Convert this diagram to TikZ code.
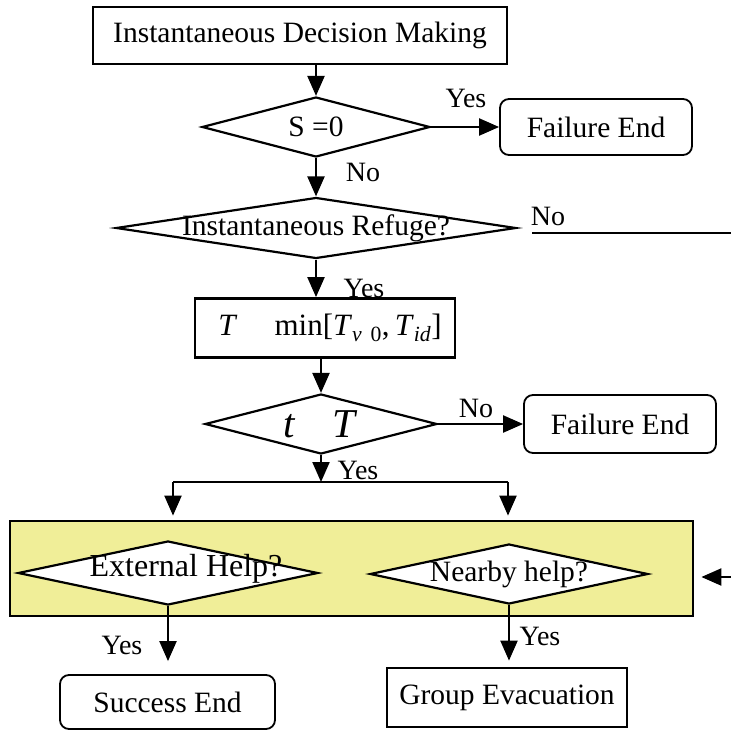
\documentclass[tikz,border=0pt]{standalone}
\usepackage{fontspec}
\setmainfont{Liberation Serif}
\usetikzlibrary{shapes.geometric,arrows.meta}
\definecolor{paleyellow}{RGB}{240,238,152}
\begin{document}
\begin{tikzpicture}[x=1pt,y=-1pt,
  every node/.style={font=\fontsize{29.5}{34}\selectfont, inner sep=0pt},
  box/.style={draw, line width=2.8pt, rectangle, fill=white},
  endbox/.style={draw, line width=1.8pt, rectangle, rounded corners=9pt, fill=white},
  dia/.style={draw, line width=2.2pt, diamond, fill=white, inner sep=0pt},
  conn/.style={line width=2.2pt},
  arr/.style={line width=2.2pt, -{Triangle[length=20pt,width=17pt]}},
  lbl/.style={font=\fontsize{28}{32}\selectfont}
]
\useasboundingbox (0,0) rectangle (731,731);

\node[box, minimum width=414pt, minimum height=57pt] (top) at (300,35.5) {Instantaneous Decision Making};
\node[dia, minimum width=228pt, minimum height=60pt, label=center:{S =0}] (d1) at (316,127) {};
\node[endbox, minimum width=192pt, minimum height=56pt] (fe1) at (596,127) {Failure End};
\node[dia, minimum width=400pt, minimum height=61pt, label=center:{Instantaneous Refuge?}] (d2) at (316,228) {};
\coordinate (nol) at (532,233);
\coordinate (nor) at (731,233);
\node[box, minimum width=260pt, minimum height=59pt, font=\fontsize{31}{36}\selectfont] (tb) at (325,328)
  {\hspace{10pt}\textit{T}\hspace{1.2em}min[\textit{T}\textsubscript{\textit{v}\hspace{0.4em}0},\,\textit{T}\textsubscript{\textit{id}}]};
\node[dia, minimum width=232pt, minimum height=60pt,
  label={center:{\fontsize{41}{44}\selectfont\textit{t}\hspace{0.9em}\textit{T}}}] (d3) at (321,424) {};
\node[endbox, minimum width=192pt, minimum height=58pt] (fe2) at (620,424) {Failure End};
\coordinate (j) at (321,482);
\coordinate (jl) at (173,482);
\coordinate (jr) at (508,482);
\node[draw, line width=2.8pt, fill=paleyellow, minimum width=683pt, minimum height=95pt] (yb) at (351.5,568.5) {};
\node[dia, minimum width=300pt, minimum height=64pt,
  label={[xshift=18pt,yshift=4pt,font=\fontsize{32}{36}\selectfont]center:External Help?}] (d4) at (168,573) {};
\node[dia, minimum width=278pt, minimum height=60pt, label=center:{Nearby help?}] (d5) at (509,574) {};
\coordinate (rin) at (731,577);
\node[endbox, minimum width=215pt, minimum height=54pt] (se) at (167.5,702) {Success End};
\node[box, minimum width=240pt, minimum height=59pt] (ge) at (507,697.5) {Group Evacuation};

\draw[arr] (top.south -| d1.north) -- (d1.north);
\draw[arr] (d1.east) -- (fe1.west);
\node[lbl] (y1) at (466,98) {Yes};
\draw[arr] (d1.south) -- (d2.north);
\node[lbl] (n1) at (363,172) {No};
\node[lbl] (n2) at (548,216) {No};
\draw[conn] (nol) -- (nor);
\draw[arr] (d2.south) -- (d2.south |- tb.north);
\node[lbl] (y2) at (364,288) {Yes};
\draw[arr] (tb.south -| d3.north) -- (d3.north);
\draw[arr] (d3.east) -- (fe2.west);
\node[lbl] (n3) at (476,408) {No};
\draw[arr] (d3.south) -- (j);
\node[lbl] (y3) at (358,470) {Yes};
\draw[conn] (jl) -- (jr);
\draw[arr, shorten >=4pt] (jl) -- (jl |- yb.north);
\draw[arr, shorten >=4pt] (jr) -- (jr |- yb.north);
\draw[arr, shorten >=7pt] (rin) -- (rin -| yb.east);
\draw[arr, shorten >=13pt] (d4.south) -- (d4.south |- se.north);
\node[lbl] (y4) at (122,645) {Yes};
\draw[arr, shorten >=6pt] (d5.south) -- (d5.south |- ge.north);
\node[lbl] (y5) at (540,636) {Yes};
\end{tikzpicture}
\end{document}
